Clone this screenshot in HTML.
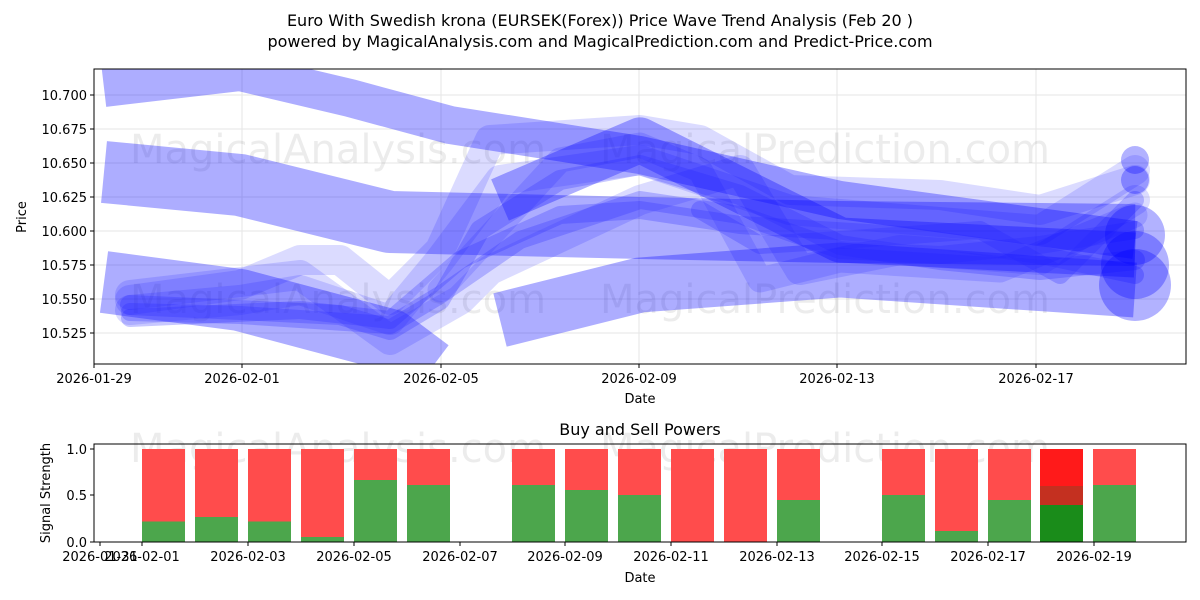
<!DOCTYPE html>
<html><head><meta charset="utf-8"><style>
body{margin:0;background:#fff;}
svg{display:block;font-family:"DejaVu Sans","Liberation Sans",sans-serif;}
</style></head><body>
<svg width="1200" height="600" viewBox="0 0 1200 600" xmlns="http://www.w3.org/2000/svg">
<rect width="1200" height="600" fill="#fff"/>
<text x="600" y="26" font-size="16" text-anchor="middle">Euro With Swedish krona (EURSEK(Forex)) Price Wave Trend Analysis (Feb 20 )</text>
<text x="600" y="47" font-size="16" text-anchor="middle">powered by MagicalAnalysis.com and MagicalPrediction.com and Predict-Price.com</text>

<defs><clipPath id="c1"><rect x="94" y="69" width="1092" height="295"/></clipPath></defs>
<g stroke="#e6e6e6" stroke-width="1">
<line x1="242" y1="69" x2="242" y2="364"/><line x1="441" y1="69" x2="441" y2="364"/><line x1="639" y1="69" x2="639" y2="364"/><line x1="837" y1="69" x2="837" y2="364"/><line x1="1036" y1="69" x2="1036" y2="364"/>
<line x1="94" y1="95" x2="1186" y2="95"/><line x1="94" y1="129" x2="1186" y2="129"/><line x1="94" y1="163" x2="1186" y2="163"/><line x1="94" y1="197" x2="1186" y2="197"/><line x1="94" y1="231" x2="1186" y2="231"/><line x1="94" y1="265" x2="1186" y2="265"/><line x1="94" y1="299" x2="1186" y2="299"/><line x1="94" y1="333" x2="1186" y2="333"/>
</g>
<g font-size="40" fill="#000" opacity="0.07">
<text x="130" y="163">MagicalAnalysis.com</text><text x="600" y="163">MagicalPrediction.com</text>
<text x="130" y="313">MagicalAnalysis.com</text><text x="600" y="313">MagicalPrediction.com</text>
</g>
<g clip-path="url(#c1)" fill="none" stroke-linejoin="round">
<g stroke="#0000ff" stroke-opacity="0.32" stroke-linecap="butt">
<path d="M104 88 L240 72 L350 98 L450 125 L640 155 L840 200 L1135 240" stroke-width="38"/>
<path d="M104 172 L240 185 L390 222 L640 228 L840 232 L1135 235" stroke-width="62"/>
<path d="M104 282 L240 300 L390 340 L430 370" stroke-width="62"/>
<path d="M500 320 L640 285 L840 270 L1135 290" stroke-width="55"/>
<path d="M500 200 L640 140 L760 200 L840 240 L1135 255" stroke-width="45"/>
</g>
<g stroke="#0000ff" stroke-opacity="0.14" stroke-linecap="round">
<path d="M130 300 L240 285 L300 260 L340 260 L390 300 L440 250 L490 140 L640 130 L700 140 L790 190 L940 195 L1040 210 L1135 180" stroke-width="30"/>
<path d="M130 310 L240 300 L300 290 L390 320 L440 260 L500 180 L640 160 L790 210 L1040 230 L1135 170" stroke-width="30"/>
<path d="M130 295 L300 275 L390 340 L460 300 L490 270 L640 200 L740 170 L800 270 L900 250 L1040 260 L1135 200" stroke-width="30"/>
<path d="M440 290 L560 160 L640 145 L700 170 L760 280 L840 260 L1000 270 L1135 215" stroke-width="25"/>
</g>
<g stroke="#2222ff" stroke-opacity="0.25" stroke-linecap="round">
<path d="M130 305 L240 310 L340 315 L390 330 L440 300 L480 230 L560 180 L640 165 L740 195 L840 245 L940 260 L1040 270 L1135 260" stroke-width="20"/>
<path d="M130 312 L240 315 L390 325 L440 295 L520 240 L640 200 L740 215 L840 250 L940 255 L1040 245 L1135 230" stroke-width="18"/>
<path d="M130 318 L300 310 L390 320 L460 260 L560 215 L640 210 L740 225 L900 235 L1040 255 L1135 275" stroke-width="18"/>
<path d="M700 210 L760 245 L840 240 L980 230 L1060 275 L1135 200" stroke-width="18"/>
</g>
<g fill="#0000ff" fill-opacity="0.3" stroke="none">
<circle cx="1135" cy="235" r="30"/><circle cx="1135" cy="265" r="34"/><circle cx="1135" cy="285" r="36"/>
<circle cx="1135" cy="160" r="14"/><circle cx="1135" cy="180" r="14"/>
</g>
</g>
<rect x="94" y="69" width="1092" height="295" fill="none" stroke="#000" stroke-width="1"/>
<g font-size="13" text-anchor="end">
<g stroke="#000"><line x1="90" y1="95" x2="94" y2="95"/><line x1="90" y1="129" x2="94" y2="129"/><line x1="90" y1="163" x2="94" y2="163"/><line x1="90" y1="197" x2="94" y2="197"/><line x1="90" y1="231" x2="94" y2="231"/><line x1="90" y1="265" x2="94" y2="265"/><line x1="90" y1="299" x2="94" y2="299"/><line x1="90" y1="333" x2="94" y2="333"/></g>
<text x="87" y="100">10.700</text><text x="87" y="134">10.675</text><text x="87" y="168">10.650</text><text x="87" y="202">10.625</text><text x="87" y="236">10.600</text><text x="87" y="270">10.575</text><text x="87" y="304">10.550</text><text x="87" y="338">10.525</text>
</g>
<g font-size="13" text-anchor="middle">
<g stroke="#000"><line x1="94" y1="364" x2="94" y2="368"/><line x1="242" y1="364" x2="242" y2="368"/><line x1="441" y1="364" x2="441" y2="368"/><line x1="639" y1="364" x2="639" y2="368"/><line x1="837" y1="364" x2="837" y2="368"/><line x1="1036" y1="364" x2="1036" y2="368"/></g>
<text x="94" y="383">2026-01-29</text><text x="242" y="383">2026-02-01</text><text x="441" y="383">2026-02-05</text><text x="639" y="383">2026-02-09</text><text x="837" y="383">2026-02-13</text><text x="1036" y="383">2026-02-17</text>
<text x="640" y="403">Date</text>
</g>
<text x="26" y="217" font-size="13" text-anchor="middle" transform="rotate(-90 26 217)">Price</text>

<text x="640" y="435" font-size="16" text-anchor="middle">Buy and Sell Powers</text>
<g font-size="40" fill="#000" opacity="0.07"><text x="130" y="462">MagicalAnalysis.com</text><text x="600" y="462">MagicalPrediction.com</text></g>
<g>
<rect x="142" y="449" width="43" height="93" fill="#ff4c4c"/><rect x="142" y="521.5" width="43" height="20.5" fill="#4ca64c"/>
<rect x="195" y="449" width="43" height="93" fill="#ff4c4c"/><rect x="195" y="517" width="43" height="25" fill="#4ca64c"/>
<rect x="248" y="449" width="43" height="93" fill="#ff4c4c"/><rect x="248" y="521.5" width="43" height="20.5" fill="#4ca64c"/>
<rect x="301" y="449" width="43" height="93" fill="#ff4c4c"/><rect x="301" y="537" width="43" height="5" fill="#4ca64c"/>
<rect x="354" y="449" width="43" height="93" fill="#ff4c4c"/><rect x="354" y="480" width="43" height="62" fill="#4ca64c"/>
<rect x="407" y="449" width="43" height="93" fill="#ff4c4c"/><rect x="407" y="485" width="43" height="57" fill="#4ca64c"/>
<rect x="512" y="449" width="43" height="93" fill="#ff4c4c"/><rect x="512" y="485" width="43" height="57" fill="#4ca64c"/>
<rect x="565" y="449" width="43" height="93" fill="#ff4c4c"/><rect x="565" y="490" width="43" height="52" fill="#4ca64c"/>
<rect x="618" y="449" width="43" height="93" fill="#ff4c4c"/><rect x="618" y="495" width="43" height="47" fill="#4ca64c"/>
<rect x="671" y="449" width="43" height="93" fill="#ff4c4c"/>
<rect x="724" y="449" width="43" height="93" fill="#ff4c4c"/>
<rect x="777" y="449" width="43" height="93" fill="#ff4c4c"/><rect x="777" y="500" width="43" height="42" fill="#4ca64c"/>
<rect x="882" y="449" width="43" height="93" fill="#ff4c4c"/><rect x="882" y="495" width="43" height="47" fill="#4ca64c"/>
<rect x="935" y="449" width="43" height="93" fill="#ff4c4c"/><rect x="935" y="531" width="43" height="11" fill="#4ca64c"/>
<rect x="988" y="449" width="43" height="93" fill="#ff4c4c"/><rect x="988" y="500" width="43" height="42" fill="#4ca64c"/>
<rect x="1040" y="449" width="43" height="93" fill="#ff1a1a"/><rect x="1040" y="486" width="43" height="19" fill="#c43020"/><rect x="1040" y="505" width="43" height="37" fill="#1a8c1a"/>
<rect x="1093" y="449" width="43" height="93" fill="#ff4c4c"/><rect x="1093" y="485" width="43" height="57" fill="#4ca64c"/>
</g>
<rect x="94" y="444" width="1092" height="98" fill="none" stroke="#000" stroke-width="1"/>
<g font-size="13" text-anchor="end">
<g stroke="#000"><line x1="90" y1="449" x2="94" y2="449"/><line x1="90" y1="495" x2="94" y2="495"/><line x1="90" y1="542" x2="94" y2="542"/></g>
<text x="87" y="454">1.0</text><text x="87" y="500">0.5</text><text x="87" y="547">0.0</text>
</g>
<text x="50" y="493" font-size="13" text-anchor="middle" transform="rotate(-90 50 493)">Signal Strength</text>
<g font-size="13" text-anchor="middle">
<g stroke="#000"><line x1="100" y1="542" x2="100" y2="546"/><line x1="142" y1="542" x2="142" y2="546"/><line x1="248" y1="542" x2="248" y2="546"/><line x1="354" y1="542" x2="354" y2="546"/><line x1="460" y1="542" x2="460" y2="546"/><line x1="565" y1="542" x2="565" y2="546"/><line x1="671" y1="542" x2="671" y2="546"/><line x1="777" y1="542" x2="777" y2="546"/><line x1="882" y1="542" x2="882" y2="546"/><line x1="988" y1="542" x2="988" y2="546"/><line x1="1094" y1="542" x2="1094" y2="546"/></g>
<text x="100" y="561">2026-01-31</text><text x="142" y="561">2026-02-01</text><text x="248" y="561">2026-02-03</text><text x="354" y="561">2026-02-05</text><text x="460" y="561">2026-02-07</text><text x="565" y="561">2026-02-09</text><text x="671" y="561">2026-02-11</text><text x="777" y="561">2026-02-13</text><text x="882" y="561">2026-02-15</text><text x="988" y="561">2026-02-17</text><text x="1094" y="561">2026-02-19</text>
<text x="640" y="582">Date</text>
</g>
</svg>
</body></html>
